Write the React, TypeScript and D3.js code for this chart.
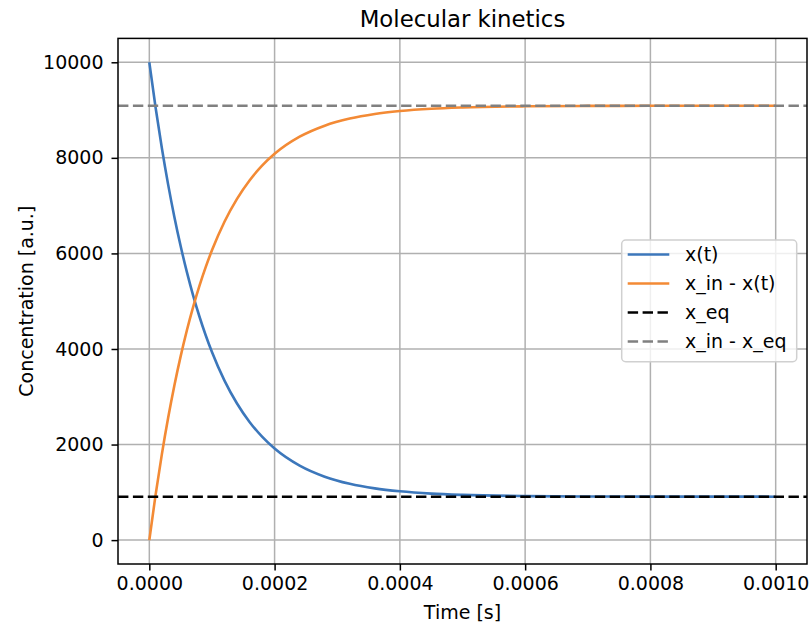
import React, { useEffect, useRef } from 'react';
import * as d3 from 'd3';

// values
const times = [
    0, 0.00001, 0.00002, 0.00003, 0.00004, 0.00005, 0.00006, 0.00007, 0.00008, 0.00009,
    0.0001, 0.00012, 0.00014, 0.00016, 0.00018, 0.0002, 0.00024, 0.00028, 0.00032, 0.00036,
    0.0004, 0.00045, 0.0005, 0.0006, 0.0007, 0.0008, 0.0009, 0.001,
];
const xSeries = [
    10000, 9053, 8205, 7445, 6764, 6154, 5608, 5118, 4680, 4287,
    3935, 3337, 2858, 2473, 2164, 1916, 1558, 1327, 1178, 1082,
    1021, 973, 946, 921, 913, 911, 910, 909,
];
const complementSeries = [
    0, 947, 1795, 2555, 3236, 3846, 4392, 4882, 5320, 5713,
    6065, 6663, 7142, 7527, 7836, 8084, 8442, 8673, 8822, 8918,
    8979, 9027, 9054, 9079, 9087, 9089, 9090, 9091,
];
const xEq = 909;
const xInMinusEq = 9091;

const xTicks = [0, 0.0002, 0.0004, 0.0006, 0.0008, 0.001];
const yTicks = [0, 2000, 4000, 6000, 8000, 10000];

const legendItems = [
    { label: 'x(t)', color: '#3c77bb', dash: null },
    { label: 'x_in - x(t)', color: '#f38a35', dash: null },
    { label: 'x_eq', color: '#000000', dash: '10.4,4.5' },
    { label: 'x_in - x_eq', color: '#808080', dash: '10.4,4.5' },
];

const App = () => {
    const ref = useRef<SVGSVGElement>(null);

    useEffect(() => {
        const svg = d3.select(ref.current);
        svg.selectAll('*').remove();

        const font = 'DejaVu Sans, sans-serif';
        const left = 118, right = 807, top = 38.4, bottom = 564;

        const x = d3.scaleLinear().domain([-0.00005, 0.00105]).range([left, right]);
        const y = d3.scaleLinear().domain([-500, 10500]).range([bottom, top]);

        // grid
        const grid = svg.append('g');
        xTicks.forEach(t => {
            grid.append('line')
                .attr('x1', x(t)).attr('x2', x(t))
                .attr('y1', top).attr('y2', bottom)
                .attr('stroke', '#b0b0b0').attr('stroke-width', 1.5);
        });
        yTicks.forEach(t => {
            grid.append('line')
                .attr('x1', left).attr('x2', right)
                .attr('y1', y(t)).attr('y2', y(t))
                .attr('stroke', '#b0b0b0').attr('stroke-width', 1.5);
        });

        // curves
        const line = d3.line<number>()
            .x((d, i) => x(times[i]))
            .y(d => y(d))
            .curve(d3.curveMonotoneX);

        svg.append('path')
            .datum(xSeries)
            .attr('fill', 'none')
            .attr('stroke', legendItems[0].color)
            .attr('stroke-width', 2.6)
            .attr('d', line);

        svg.append('path')
            .datum(complementSeries)
            .attr('fill', 'none')
            .attr('stroke', legendItems[1].color)
            .attr('stroke-width', 2.6)
            .attr('d', line);

        // horizontal reference lines
        [xEq, xInMinusEq].forEach((v, i) => {
            svg.append('line')
                .attr('x1', left).attr('x2', right)
                .attr('y1', y(v)).attr('y2', y(v))
                .attr('stroke', legendItems[i + 2].color)
                .attr('stroke-width', 2.6)
                .attr('stroke-dasharray', legendItems[i + 2].dash);
        });

        // axes
        const xAxis = svg.append('g')
            .attr('transform', `translate(0,${bottom})`)
            .call(d3.axisBottom(x).tickValues(xTicks).tickSize(6.5).tickPadding(6).tickFormat(d3.format('.4f')));
        const yAxis = svg.append('g')
            .attr('transform', `translate(${left},0)`)
            .call(d3.axisLeft(y).tickValues(yTicks).tickSize(6.5).tickPadding(8).tickFormat(d3.format('d')));

        [xAxis, yAxis].forEach(a => {
            a.select('.domain').remove();
            a.selectAll('line').attr('stroke', '#000').attr('stroke-width', 1.5);
            a.selectAll('text')
                .style('font-family', font)
                .style('font-size', '19px')
                .attr('fill', '#000');
        });

        // spines
        svg.append('rect')
            .attr('x', left).attr('y', top)
            .attr('width', right - left).attr('height', bottom - top)
            .attr('fill', 'none')
            .attr('stroke', '#000')
            .attr('stroke-width', 1.5);

        // labels
        svg.append('text')
            .attr('x', (left + right) / 2)
            .attr('y', 26.7)
            .attr('text-anchor', 'middle')
            .style('font-family', font)
            .style('font-size', '22.8px')
            .text('Molecular kinetics');

        svg.append('text')
            .attr('x', (left + right) / 2)
            .attr('y', 618.5)
            .attr('text-anchor', 'middle')
            .style('font-family', font)
            .style('font-size', '19px')
            .text('Time [s]');

        svg.append('text')
            .attr('transform', `translate(32.5,${(top + bottom) / 2}) rotate(-90)`)
            .attr('text-anchor', 'middle')
            .style('font-family', font)
            .style('font-size', '19px')
            .text('Concentration [a.u.]');

        // legend
        const legend = svg.append('g');
        legend.append('rect')
            .attr('x', 621.7).attr('y', 240)
            .attr('width', 175).attr('height', 121.7)
            .attr('rx', 4)
            .attr('fill', 'rgba(255,255,255,0.8)')
            .attr('stroke', '#d0d0d0')
            .attr('stroke-width', 1.5);

        legendItems.forEach((item, i) => {
            const cy = 254.5 + i * 29;
            legend.append('line')
                .attr('x1', 627.7).attr('x2', 669.3)
                .attr('y1', cy).attr('y2', cy)
                .attr('stroke', item.color)
                .attr('stroke-width', 2.6)
                .attr('stroke-dasharray', item.dash);
            legend.append('text')
                .attr('x', 685)
                .attr('y', cy)
                .attr('dy', '0.35em')
                .style('font-family', font)
                .style('font-size', '19px')
                .text(item.label);
        });
    }, []);

    return (
        <svg ref={ref} width={811} height={625}
            style={{ position: 'absolute', left: 0, top: 0, background: '#fff' }} />
    );
};

export default App;
